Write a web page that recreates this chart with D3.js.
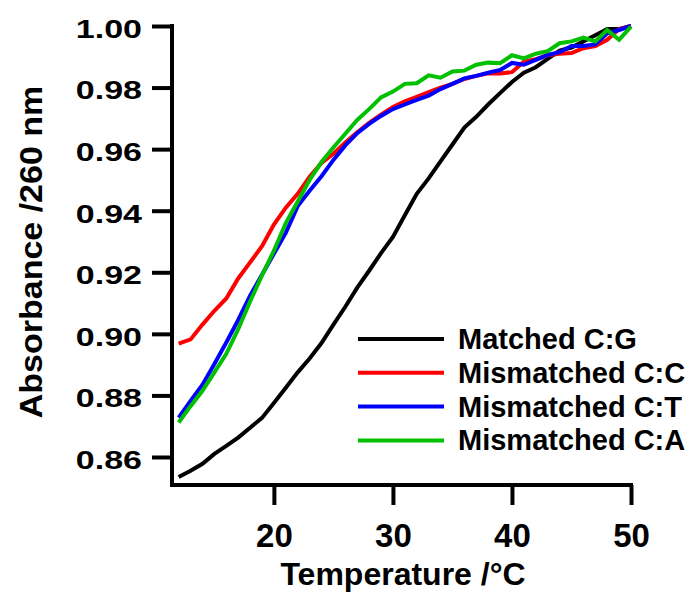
<!DOCTYPE html>
<html>
<head>
<meta charset="utf-8">
<script src="https://cdn.jsdelivr.net/npm/d3@7"></script>
<style>
  html, body { margin: 0; padding: 0; background: #fff; }
  svg { display: block; font-family: "Liberation Sans", Arial, sans-serif; font-weight: bold; }
</style>
</head>
<body>
<svg id="chart" width="693" height="592"></svg>
<script>
// Temperature points (°C)
const temperatures = d3.range(12, 51);

// Normalised absorbance at 260 nm for each duplex
const matchedCG = [
  0.8535, 0.8555, 0.8578, 0.8610, 0.8636, 0.8663, 0.8695, 0.8727, 0.8775, 0.8825,
  0.8875, 0.8920, 0.8970, 0.9030, 0.9088, 0.9150, 0.9205, 0.9262, 0.9315, 0.9385,
  0.9455, 0.9505, 0.9560, 0.9615, 0.9670, 0.9705, 0.9745, 0.9782, 0.9818, 0.9848,
  0.9866, 0.9893, 0.9920, 0.9930, 0.9950, 0.9970, 0.9990, 0.9990, 1.0000
];
const mismatchedCC = [
  0.8968, 0.8982, 0.9030, 0.9075, 0.9115, 0.9180, 0.9232, 0.9285, 0.9355, 0.9410,
  0.9455, 0.9510, 0.9555, 0.9585, 0.9622, 0.9655, 0.9685, 0.9712, 0.9737, 0.9755,
  0.9770, 0.9785, 0.9800, 0.9812, 0.9828, 0.9838, 0.9846, 0.9846, 0.9850, 0.9884,
  0.9892, 0.9905, 0.9910, 0.9912, 0.9928, 0.9935, 0.9955, 0.9990, 1.0000
];
const mismatchedCT = [
  0.8728, 0.8782, 0.8835, 0.8902, 0.8972, 0.9045, 0.9124, 0.9192, 0.9260, 0.9328,
  0.9415, 0.9465, 0.9512, 0.9565, 0.9612, 0.9652, 0.9682, 0.9708, 0.9730, 0.9745,
  0.9760, 0.9774, 0.9795, 0.9812, 0.9830, 0.9838, 0.9848, 0.9857, 0.9880, 0.9874,
  0.9890, 0.9906, 0.9915, 0.9935, 0.9935, 0.9940, 0.9976, 0.9987, 1.0000
];
const mismatchedCA = [
  0.8712, 0.8765, 0.8815, 0.8875, 0.8935, 0.9015, 0.9105, 0.9190, 0.9270, 0.9360,
  0.9430, 0.9500, 0.9558, 0.9605, 0.9650, 0.9695, 0.9730, 0.9768, 0.9787, 0.9812,
  0.9814, 0.9840, 0.9832, 0.9852, 0.9855, 0.9874, 0.9881, 0.9879, 0.9905, 0.9895,
  0.9910, 0.9918, 0.9944, 0.9950, 0.9962, 0.9950, 0.9987, 0.9955, 0.9998
];

const seriesNames = ["Matched C:G", "Mismatched C:C", "Mismatched C:T", "Mismatched C:A"];
const seriesColors = ["#000000", "#ff0000", "#0000ff", "#00c000"];
const seriesValues = [matchedCG, mismatchedCC, mismatchedCT, mismatchedCA];

const xTicks = [20, 30, 40, 50];
const yTicks = [0.86, 0.88, 0.90, 0.92, 0.94, 0.96, 0.98, 1.00];

const svg = d3.select("#chart");

const x = d3.scaleLinear().domain([11.44, 50]).range([172, 631]);
const y = d3.scaleLinear().domain([0.8509, 1.0]).range([485, 26]);

// Data lines (drawn first so the axes sit on top at the edges)
const line = d3.line()
  .x((d, i) => x(temperatures[i]))
  .y(d => y(d));

svg.append("g")
  .selectAll("path")
  .data(seriesValues)
  .join("path")
  .attr("d", d => line(d))
  .attr("fill", "none")
  .attr("stroke", (d, i) => seriesColors[i])
  .attr("stroke-width", 4)
  .attr("stroke-linejoin", "miter")
  .attr("stroke-linecap", "butt");

// X axis
const xAxis = svg.append("g")
  .attr("transform", `translate(0,${y.range()[0]})`)
  .call(d3.axisBottom(x).tickValues(xTicks).tickFormat(d3.format("d"))
    .tickSizeInner(20).tickSizeOuter(0).tickPadding(10));
xAxis.select(".domain").attr("stroke", "#000").attr("stroke-width", 4)
  .attr("d", `M${x.range()[0] - 2},0H${x.range()[1] + 2}`);
xAxis.selectAll(".tick line").attr("stroke", "#000").attr("stroke-width", 4);
xAxis.selectAll(".tick text")
  .attr("fill", "#000")
  .style("font-size", "33px")
  .attr("y", 0)
  .attr("dy", 0)
  .attr("transform", "translate(0,62)");

// Y axis
const yAxis = svg.append("g")
  .attr("transform", `translate(${x.range()[0]},0)`)
  .call(d3.axisLeft(y).tickValues(yTicks).tickFormat(d3.format(".2f"))
    .tickSizeInner(20).tickSizeOuter(0).tickPadding(10));
yAxis.select(".domain").attr("stroke", "#000").attr("stroke-width", 4)
  .attr("d", `M0,${y(1.0) - 2}V${y.range()[0] + 2}`);
yAxis.selectAll(".tick line").attr("stroke", "#000").attr("stroke-width", 4);
yAxis.selectAll(".tick text")
  .attr("fill", "#000")
  .style("font-size", "34px")
  .attr("x", -30)
  .attr("dy", 0)
  .attr("y", 14.5)
  .attr("transform", "scale(1,0.78)");

// Axis titles
svg.append("text")
  .attr("x", 403)
  .attr("y", 585)
  .attr("text-anchor", "middle")
  .style("font-size", "32px")
  .text("Temperature /°C");

svg.append("text")
  .attr("transform", "translate(42,252) rotate(-90) scale(1,0.9)")
  .attr("text-anchor", "middle")
  .style("font-size", "34px")
  .text("Absorbance /260 nm");

// Legend
const legend = svg.append("g")
  .selectAll("g")
  .data(seriesNames)
  .join("g")
  .attr("transform", (d, i) => `translate(358,${339 + i * 33.8})`);
legend.append("line")
  .attr("x1", 0).attr("x2", 86)
  .attr("y1", 0).attr("y2", 0)
  .attr("stroke", (d, i) => seriesColors[i])
  .attr("stroke-width", 4);
legend.append("text")
  .attr("x", 100)
  .attr("y", 10)
  .style("font-size", "29px")
  .text(d => d);
</script>
</body>
</html>
